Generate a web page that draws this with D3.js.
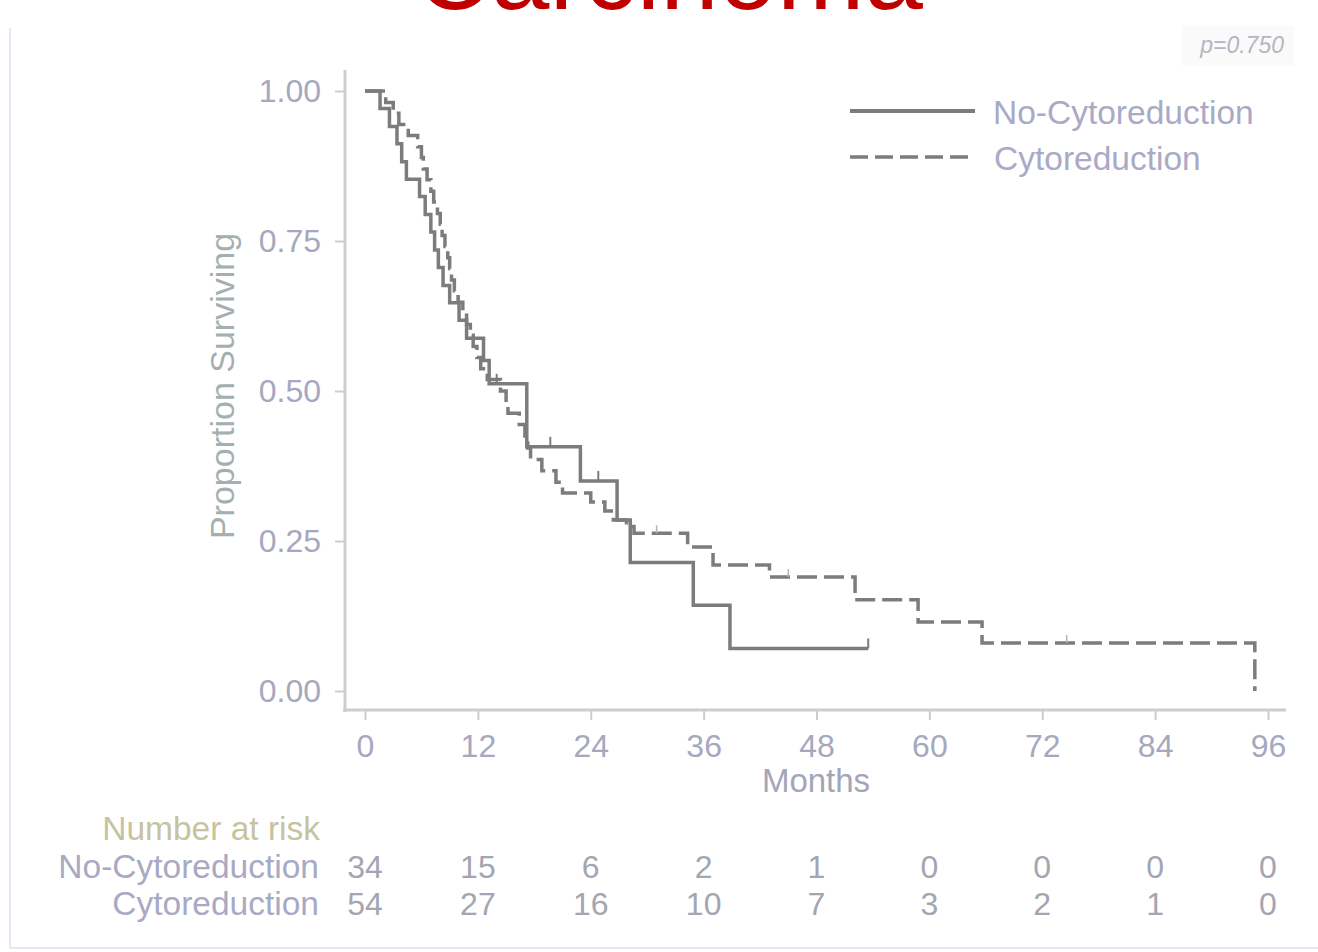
<!DOCTYPE html>
<html>
<head>
<meta charset="utf-8">
<script src="https://cdn.jsdelivr.net/npm/d3@7"></script>
<style>
  html, body { margin: 0; padding: 0; background: #ffffff; }
  svg { display: block; }
  text { font-family: "Liberation Sans", Arial, sans-serif; }
</style>
</head>
<body>
<svg id="chart" width="1318" height="952"></svg>
<script>
// Kaplan-Meier estimates, No-Cytoreduction group (time in months, proportion surviving)
const noCytoTime = [0, 1.6, 2.6, 3.4, 3.9, 4.4, 5.8, 6.4, 7.0, 7.4, 7.8, 8.3, 9.0, 10.0, 10.8, 12.6, 13.2, 17.2, 22.9, 26.8, 28.2, 34.9, 38.8, 53.5];
const noCytoSurv = [1.0, 0.971, 0.941, 0.912, 0.882, 0.853, 0.824, 0.794, 0.765, 0.735, 0.706, 0.676, 0.647, 0.618, 0.588, 0.551, 0.512, 0.407, 0.350, 0.285, 0.214, 0.143, 0.071, 0.071];
const noCytoCensor = [14.0, 19.7, 24.8, 53.5];

// Kaplan-Meier estimates, Cytoreduction group
const cytoTime = [0, 2.2, 3.0, 3.6, 4.6, 5.6, 6.0, 6.2, 6.6, 7.0, 7.3, 7.7, 8.0, 8.2, 8.5, 8.8, 9.0, 9.2, 9.5, 9.9, 10.4, 10.8, 11.2, 11.5, 11.9, 12.3, 13.0, 14.4, 15.0, 15.2, 16.4, 17.0, 17.3, 17.6, 18.8, 20.3, 21.0, 24.0, 25.5, 26.4, 27.8, 28.6, 34.3, 37.0, 43.0, 52.1, 58.8, 65.6, 94.6];
const cytoSurv = [1.0, 0.981, 0.963, 0.944, 0.926, 0.907, 0.889, 0.870, 0.852, 0.833, 0.815, 0.796, 0.778, 0.759, 0.741, 0.722, 0.704, 0.685, 0.667, 0.648, 0.630, 0.611, 0.593, 0.574, 0.556, 0.537, 0.519, 0.500, 0.481, 0.463, 0.444, 0.425, 0.405, 0.386, 0.367, 0.348, 0.330, 0.315, 0.300, 0.285, 0.274, 0.263, 0.240, 0.210, 0.190, 0.152, 0.115, 0.080, 0.0];
const cytoCensor = [31.0, 45.0, 74.6];

// Axis ticks and number-at-risk table
const monthTicks = [0, 12, 24, 36, 48, 60, 72, 84, 96];
const survTicks = [0, 0.25, 0.5, 0.75, 1.0];
const groupNames = ["No-Cytoreduction", "Cytoreduction"];
const riskNoCyto = [34, 15, 6, 2, 1, 0, 0, 0, 0];
const riskCyto = [54, 27, 16, 10, 7, 3, 2, 1, 0];
const pValueText = "p=0.750";
const titleText = "Carcinoma";

const svg = d3.select("#chart");
const x = d3.scaleLinear().domain([0, 96]).range([365, 1268]);
const y = d3.scaleLinear().domain([0, 1]).range([691, 91]);

const axisColor = "#cdcdd0";
const labelColor = "#a6a8c0";
const curveColor = "#7c7c7c";

// Page frame
svg.append("line").attr("x1", 10).attr("x2", 10).attr("y1", 28).attr("y2", 948)
  .attr("stroke", "#e4e6f3").attr("stroke-width", 2);
svg.append("line").attr("x1", 10).attr("x2", 1318).attr("y1", 948).attr("y2", 948)
  .attr("stroke", "#e4e6f3").attr("stroke-width", 2);

// Title (runs off the top edge of the page)
svg.append("text").attr("x", 669).attr("y", 9)
  .attr("text-anchor", "middle").attr("font-size", 105)
  .attr("fill", "#c00000").text(titleText);

// p-value box
svg.append("rect").attr("x", 1182).attr("y", 26).attr("width", 112).attr("height", 40)
  .attr("fill", "#fafafa");
svg.append("text").attr("x", 1284).attr("y", 53).attr("text-anchor", "end")
  .attr("font-size", 23).attr("font-style", "italic").attr("fill", "#b6b6c0").text(pValueText);

// Y axis
const yAxis = d3.axisLeft(y).tickValues(survTicks).tickFormat(d3.format(".2f"))
  .tickSize(10).tickPadding(14);
const gy = svg.append("g").attr("transform", "translate(345,0)").call(yAxis);
gy.select(".domain").remove();
gy.append("line").attr("x1", 0).attr("x2", 0).attr("y1", 70).attr("y2", 712)
  .attr("stroke", axisColor).attr("stroke-width", 3);
gy.selectAll(".tick line").attr("stroke", axisColor).attr("stroke-width", 2);
gy.selectAll(".tick text").attr("font-size", 32).attr("fill", labelColor)
  .attr("font-family", "'Liberation Sans', Arial, sans-serif");

// X axis
const xAxis = d3.axisBottom(x).tickValues(monthTicks).tickSize(10).tickPadding(14);
const gx = svg.append("g").attr("transform", "translate(0,710)").call(xAxis);
gx.select(".domain").remove();
gx.append("line").attr("x1", 343).attr("x2", 1286).attr("y1", 0).attr("y2", 0)
  .attr("stroke", axisColor).attr("stroke-width", 3);
gx.selectAll(".tick line").attr("stroke", axisColor).attr("stroke-width", 2);
gx.selectAll(".tick text").attr("font-size", 32).attr("fill", labelColor)
  .attr("font-family", "'Liberation Sans', Arial, sans-serif");

// Axis titles
svg.append("text").attr("x", 816).attr("y", 792).attr("text-anchor", "middle")
  .attr("font-size", 33).attr("fill", "#a3a5b8").text("Months");
svg.append("text").attr("transform", "translate(234,386) rotate(-90)")
  .attr("text-anchor", "middle").attr("font-size", 34).attr("fill", "#a4b0b0")
  .text("Proportion Surviving");

// Survival curves
const line = d3.line().x(d => x(d[0])).y(d => y(d[1])).curve(d3.curveStepAfter);
const noCytoPts = noCytoTime.map((t, i) => [t, noCytoSurv[i]]);
const cytoPts = cytoTime.map((t, i) => [t, cytoSurv[i]]);

svg.append("path").datum(cytoPts).attr("d", line)
  .attr("fill", "none").attr("stroke", curveColor).attr("stroke-width", 3.5)
  .attr("stroke-dasharray", "20,7");
svg.append("path").datum(noCytoPts).attr("d", line)
  .attr("fill", "none").attr("stroke", curveColor).attr("stroke-width", 3.5);

// Censoring marks
function survAt(times, surv, t) {
  let s = surv[0];
  for (let i = 0; i < times.length; i++) { if (times[i] <= t) s = surv[i]; }
  return s;
}
svg.selectAll(".cens-a").data(noCytoCensor).enter().append("line")
  .attr("x1", d => x(d)).attr("x2", d => x(d))
  .attr("y1", d => y(survAt(noCytoTime, noCytoSurv, d)))
  .attr("y2", d => y(survAt(noCytoTime, noCytoSurv, d)) - 10)
  .attr("stroke", curveColor).attr("stroke-width", 2);
svg.selectAll(".cens-b").data(cytoCensor).enter().append("line")
  .attr("x1", d => x(d)).attr("x2", d => x(d))
  .attr("y1", d => y(survAt(cytoTime, cytoSurv, d)))
  .attr("y2", d => y(survAt(cytoTime, cytoSurv, d)) - 8)
  .attr("stroke", "#b4b4b4").attr("stroke-width", 1.5);

// Legend
const legend = svg.append("g");
legend.append("line").attr("x1", 850).attr("x2", 975).attr("y1", 111).attr("y2", 111)
  .attr("stroke", curveColor).attr("stroke-width", 4);
legend.append("line").attr("x1", 850).attr("x2", 975).attr("y1", 157).attr("y2", 157)
  .attr("stroke", curveColor).attr("stroke-width", 3.5).attr("stroke-dasharray", "18,7");
legend.append("text").attr("x", 993).attr("y", 124).attr("font-size", 33.5)
  .attr("fill", "#a9aac6").text(groupNames[0]);
legend.append("text").attr("x", 994).attr("y", 170).attr("font-size", 33.5)
  .attr("fill", "#a9aac6").text(groupNames[1]);

// Number at risk table
svg.append("text").attr("x", 320).attr("y", 840).attr("text-anchor", "end")
  .attr("font-size", 33.5).attr("fill", "#c6c39f").text("Number at risk");
const rows = [riskNoCyto, riskCyto];
const rowY = [878, 915];
rows.forEach((vals, r) => {
  svg.append("text").attr("x", 319).attr("y", rowY[r]).attr("text-anchor", "end")
    .attr("font-size", 33.5).attr("fill", "#a8aac4").text(groupNames[r]);
  svg.selectAll(".risk" + r).data(vals).enter().append("text")
    .attr("x", (d, i) => x(monthTicks[i]))
    .attr("y", rowY[r]).attr("text-anchor", "middle")
    .attr("font-size", 32).attr("fill", "#a4a5b2").text(d => d);
});
</script>
</body>
</html>
